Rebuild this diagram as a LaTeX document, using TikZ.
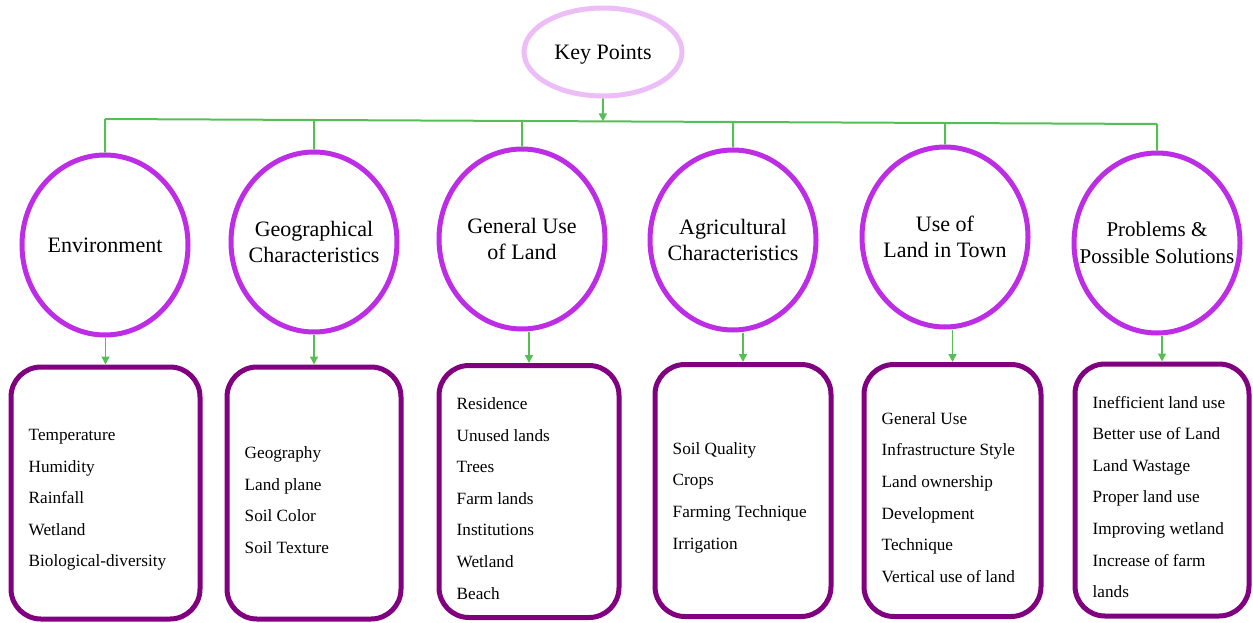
\documentclass[tikz,border=0pt]{standalone}
\usepackage{fontspec}
\setmainfont{Liberation Serif}
\usetikzlibrary{arrows.meta,calc,shapes.geometric}
\definecolor{lilac}{HTML}{EDBDF8}
\definecolor{orchid}{HTML}{BE2DE6}
\definecolor{plum}{HTML}{800080}
\definecolor{leaf}{HTML}{55BF55}

\begin{document}
\begin{tikzpicture}[x=1pt,y=-1pt,
  topic/.style={ellipse,draw=orchid,line width=5pt,minimum width=166pt,minimum height=180pt,inner sep=0pt},
  items/.style={draw=plum,line width=5pt,rounded corners=30pt,minimum height=252pt},
  itemtext/.style={anchor=west,inner sep=0pt,align=left,font=\fontsize{17.2}{31.6}\selectfont},
  link/.style={leaf,line width=2pt},
  arr/.style={leaf,line width=1.4pt,-{Triangle[length=8pt,width=8pt]}}]
\useasboundingbox (0,0) rectangle (1253,623);
\node[ellipse,draw=lilac,line width=5pt,minimum width=158pt,minimum height=88pt,inner sep=0pt,text depth=0pt,font=\fontsize{22}{26.5}\selectfont] (key) at (603,52) {Key Points};
\coordinate (barL) at (105,119);
\coordinate (barR) at (1157,124);
\draw[link] (barL) -- (barR);
\draw[link,-{Triangle[length=8pt,width=8pt]}] (key.south) -- ($(barL)!(key.south)!(barR)$);
% topics on the bar
\foreach \i/\x/\y/\fs/\name in {1/105/245/22/Environment,
    2/314/242/22/{Geographical\\Characteristics},
    3/522/239/22/{General Use\\of Land},
    4/733/240/22/{Agricultural\\Characteristics},
    5/945/237/22/{Use of\\Land in Town},
    6/1157/243/21/{Problems \&\\Possible Solutions}}{
  \node[topic] (c\i) at (\x,\y) {};
  \node[align=center,inner sep=0pt,font=\fontsize{\fs}{26.5}\selectfont] (c\i-text) at (c\i) {\name};
  \draw[link] (c\i.north) -- ($(barL)!(c\i.north)!(barR)$);
}
% lists under each topic
\foreach \i/\x/\y/\w/\list in {1/105.5/493/189/{Temperature\\Humidity\\Rainfall\\Wetland\\Biological-diversity},
    2/314/493/174/{Geography\\Land plane\\Soil Color\\Soil Texture},
    3/529/491.5/180/{Residence\\Unused lands\\Trees\\Farm lands\\Institutions\\Wetland\\Beach},
    4/743/490.5/176/{Soil Quality\\Crops\\Farming Technique\\Irrigation},
    5/952.5/490.5/177/{General Use\\Infrastructure Style\\Land ownership\\Development\\Technique\\Vertical use of land},
    6/1162/490/174/{Inefficient land use\\Better use of Land\\Land Wastage\\Proper land use\\Improving wetland\\Increase of farm\\lands}}{
  \node[items,minimum width=\w pt] (b\i) at (\x,\y) {};
  \node[itemtext] (b\i-text) at ($(b\i.west)+(20,7)$) {\list};
  \draw[arr] (b\i.north |- c\i.south) -- (b\i.north);
}
\end{tikzpicture}
\end{document}
